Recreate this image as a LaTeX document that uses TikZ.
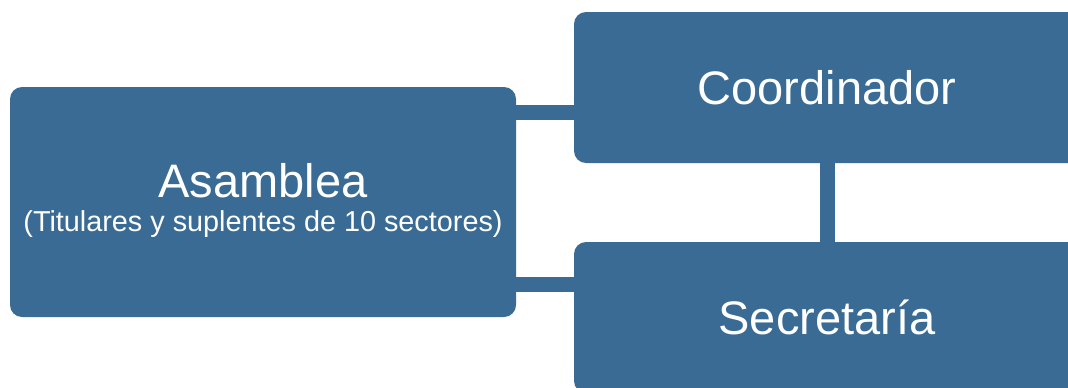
\documentclass[tikz,border=0pt]{standalone}
\usepackage{fontspec}
\setmainfont{Liberation Sans}
\definecolor{boxblue}{HTML}{3A6B94}
\begin{document}
\begin{tikzpicture}[x=1pt,y=-1pt,
  box/.style={fill=boxblue,rounded corners=12pt,inner sep=0pt,text=white,align=center},
  big/.style={text=white,inner sep=0pt,anchor=base,font=\fontsize{47}{56}\selectfont},
  small/.style={text=white,inner sep=0pt,anchor=base,font=\fontsize{28.8}{34}\selectfont},
  bar/.style={draw=boxblue,line width=15pt}]
\useasboundingbox (0,0) rectangle (1068,388);
\clip (0,0) rectangle (1068,388);
\draw[bar] (516,112) -- (574,112);
\draw[bar] (516,284) -- (574,284);
\node[box,minimum width=506pt,minimum height=230pt] (asam) at (263,202) {};
\node[big] (asamT) at (263,197) {Asamblea};
\node[small] (asamS) at (263,231) {(Titulares y suplentes de 10 sectores)};
\node[box,minimum width=506pt,minimum height=151pt] (coord) at (827,87.5)
  {\fontsize{47}{56}\selectfont Coordinador};
\node[box,minimum width=506pt,minimum height=151pt] (secr) at (827,317.5)
  {\fontsize{47}{56}\selectfont Secretaría};
\draw[bar] (coord.south) -- (secr.north);
\end{tikzpicture}
\end{document}
